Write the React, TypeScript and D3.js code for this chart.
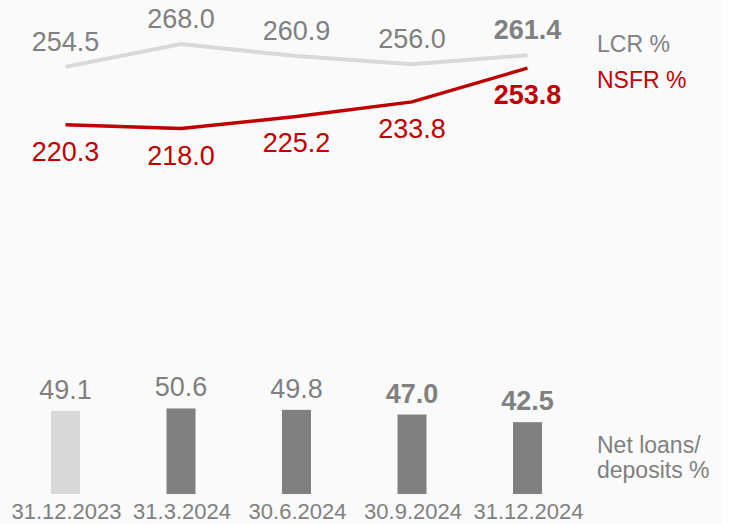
import * as d3 from 'd3';
import { useRef, useEffect } from 'react';

// CHART DATA
const DATES = ['31.12.2023', '31.3.2024', '30.6.2024', '30.9.2024', '31.12.2024'];
const LCR = [254.5, 268.0, 260.9, 256.0, 261.4];
const NSFR = [220.3, 218.0, 225.2, 233.8, 253.8];
const LOANS_DEPOSITS = [49.1, 50.6, 49.8, 47.0, 42.5];
const BOLD_LINE = [false, false, false, false, true];
const BOLD_BAR = [false, false, false, true, true];

// RENDERING SETUP
const WIDTH = 737;
const HEIGHT = 524;
const COLOR = {
  BG: '#fafafa',
  GRAY: '#808080',
  LIGHT: '#d9d9d9',
  RED: '#c00000',
};
const FONT = '"Liberation Sans", Arial, sans-serif';

const App = () => {
  const svgRef = useRef(null);

  useEffect(() => {
    const svg = d3.select(svgRef.current);
    svg.selectAll('*').remove();

    svg
      .append('rect')
      .attr('width', 722)
      .attr('height', HEIGHT)
      .attr('fill', COLOR.BG);

    const x = d3.scalePoint().domain(DATES).range([65.5, 527.5]);
    // lines and bars sit on different baselines (secondary axis)
    const yLine = d3.scaleLinear().domain([0, 290]).range([497, 497 - 1.69 * 290]);
    const yBar = d3.scaleLinear().domain([0, 50]).range([494, 494 - 1.69 * 50]);
    const BAR_W = 29;

    // bars
    svg
      .append('g')
      .selectAll('rect')
      .data(LOANS_DEPOSITS)
      .join('rect')
      .attr('x', (d, i) => x(DATES[i]) - BAR_W / 2)
      .attr('y', (d) => yBar(d))
      .attr('width', BAR_W)
      .attr('height', (d) => yBar(0) - yBar(d))
      .attr('fill', (d, i) => (i === 0 ? COLOR.LIGHT : COLOR.GRAY));

    svg
      .append('g')
      .selectAll('text')
      .data(LOANS_DEPOSITS)
      .join('text')
      .attr('x', (d, i) => x(DATES[i]))
      .attr('y', (d) => yBar(d) - 12)
      .attr('text-anchor', 'middle')
      .attr('font-size', 27)
      .attr('font-weight', (d, i) => (BOLD_BAR[i] ? 'bold' : 'normal'))
      .attr('fill', COLOR.GRAY)
      .text((d) => d.toFixed(1));

    // lines
    const line = d3
      .line()
      .x((d, i) => x(DATES[i]))
      .y((d) => yLine(d));

    svg
      .append('path')
      .datum(LCR)
      .attr('d', line)
      .attr('fill', 'none')
      .attr('stroke', COLOR.LIGHT)
      .attr('stroke-width', 4);

    svg
      .append('path')
      .datum(NSFR)
      .attr('d', line)
      .attr('fill', 'none')
      .attr('stroke', COLOR.RED)
      .attr('stroke-width', 3.5);

    svg
      .append('g')
      .selectAll('text')
      .data(LCR)
      .join('text')
      .attr('x', (d, i) => x(DATES[i]))
      .attr('y', (d) => yLine(d) - 16)
      .attr('text-anchor', 'middle')
      .attr('font-size', 27)
      .attr('font-weight', (d, i) => (BOLD_LINE[i] ? 'bold' : 'normal'))
      .attr('fill', COLOR.GRAY)
      .text((d) => d.toFixed(1));

    svg
      .append('g')
      .selectAll('text')
      .data(NSFR)
      .join('text')
      .attr('x', (d, i) => x(DATES[i]))
      .attr('y', (d) => yLine(d) + 36)
      .attr('text-anchor', 'middle')
      .attr('font-size', 27)
      .attr('font-weight', (d, i) => (BOLD_LINE[i] ? 'bold' : 'normal'))
      .attr('fill', COLOR.RED)
      .text((d) => d.toFixed(1));

    // category labels
    svg
      .append('g')
      .selectAll('text')
      .data(DATES)
      .join('text')
      .attr('x', (d) => x(d) + 1)
      .attr('y', 519)
      .attr('text-anchor', 'middle')
      .attr('font-size', 22)
      .attr('fill', COLOR.GRAY)
      .text((d) => d);

    // series names
    const names = [
      { t: 'LCR %', y: 52, c: COLOR.GRAY },
      { t: 'NSFR %', y: 88, c: COLOR.RED },
      { t: 'Net loans/', y: 453, c: COLOR.GRAY },
      { t: 'deposits %', y: 478, c: COLOR.GRAY },
    ];
    svg
      .append('g')
      .selectAll('text')
      .data(names)
      .join('text')
      .attr('x', 597)
      .attr('y', (d) => d.y)
      .attr('font-size', 23)
      .attr('fill', (d) => d.c)
      .text((d) => d.t);
  }, []);

  return (
    <div style={{ position: 'absolute', left: 0, top: 0 }}>
      <svg
        ref={svgRef}
        width={WIDTH}
        height={HEIGHT}
        style={{ display: 'block', fontFamily: FONT, background: '#fff' }}
      />
    </div>
  );
};

export default App;
